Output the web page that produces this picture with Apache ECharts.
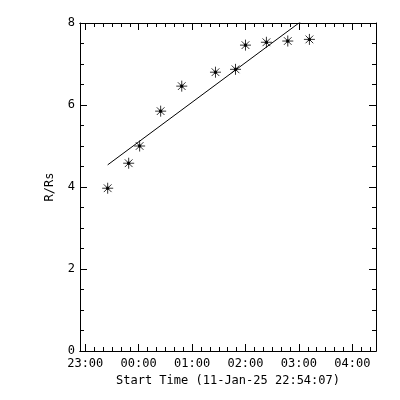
<!DOCTYPE html>
<html>
<head>
<meta charset="utf-8">
<script src="https://cdn.jsdelivr.net/npm/echarts@6/dist/echarts.min.js"></script>
<style>html,body{margin:0;padding:0;background:#fff}#c{width:400px;height:400px}</style>
</head>
<body>
<div id="c"></div>
<script>
// x values: minutes after 23:00 (11-Jan-25); y values: R/Rs
var timeMin = [25.2, 48.8, 61.1, 84.7, 108.4, 146.3, 168.8, 180.0, 203.5, 227.5, 251.8];
var radius  = [3.97, 4.58, 5.00, 5.85, 6.46, 6.80, 6.87, 7.46, 7.53, 7.56, 7.60];
var fitTime = [25.2, 251.8];
var fitR    = [4.54, 8.19];
var xMin = -5.883;   // 22:54:07
var xMax = 326.6;
var majorTicks = [0, 60, 120, 180, 240, 300];
var minorTicks = [];
for (var m = 0; m <= 320; m += 10) minorTicks.push(m);
var yTicks = ['0', '2', '4', '6', '8'];

var FONT = 'DejaVu Sans Mono';
function fmtTime(v) {
  var t = Math.round(23 * 60 + v) % 1440;
  var h = Math.floor(t / 60), mm = t % 60;
  return (h < 10 ? '0' : '') + h + ':' + (mm < 10 ? '0' : '') + mm;
}
var lineStyle = {color: '#000', width: 1};
function xAxisDef(pos, ticks, len, showLabel, showName) {
  return {
    type: 'value', position: pos, min: xMin, max: xMax,
    axisLine: {show: true, onZero: false, lineStyle: lineStyle},
    axisTick: {show: true, inside: true, length: len, customValues: ticks, lineStyle: lineStyle},
    axisLabel: {show: showLabel, customValues: majorTicks, formatter: fmtTime, color: '#000',
      fontFamily: FONT, fontSize: 12, margin: 7},
    splitLine: {show: false},
    name: showName ? 'Start Time (11-Jan-25 22:54:07)' : '',
    nameLocation: 'middle', nameGap: 22,
    nameTextStyle: {color: '#000', fontFamily: FONT, fontSize: 12}
  };
}
function yAxisDef(pos, showLabel) {
  return {
    type: 'value', position: pos, min: 0, max: 8, interval: 2,
    axisLine: {show: true, onZero: false, lineStyle: lineStyle},
    axisTick: {show: true, inside: true, length: 7, lineStyle: lineStyle},
    minorTick: {show: true, splitNumber: 4, length: 4, lineStyle: lineStyle},
    axisLabel: {show: showLabel, color: '#000', fontFamily: FONT, fontSize: 12, margin: 5,
      formatter: function (v) { return yTicks[Math.round(v / 2)]; }},
    splitLine: {show: false},
    name: showLabel ? 'R/Rs' : '',
    nameLocation: 'middle', nameGap: 24, nameRotate: 90,
    nameTextStyle: {color: '#000', fontFamily: FONT, fontSize: 12}
  };
}

var chart = echarts.init(document.getElementById('c'), null, {renderer: 'canvas'});
chart.setOption({
  animation: false,
  backgroundColor: '#fff',
  grid: {left: 80, top: 23, width: 296, height: 328, containLabel: false},
  xAxis: [
    xAxisDef('bottom', majorTicks, 7, true, true),
    xAxisDef('bottom', minorTicks, 4, false, false),
    xAxisDef('top', majorTicks, 7, false, false),
    xAxisDef('top', minorTicks, 4, false, false)
  ],
  yAxis: [yAxisDef('left', true), yAxisDef('right', false)],
  series: [
    {
      type: 'scatter', xAxisIndex: 0, yAxisIndex: 0,
      data: timeMin.map(function (t, i) { return [t, radius[i]]; }),
      symbol: 'path://M5 0L5 10M0 5L10 5M1.5 1.5L8.5 8.5M8.5 1.5L1.5 8.5M4 4L6 4L6 6L4 6Z',
      symbolSize: 11,
      itemStyle: {color: '#000', borderColor: '#000', borderWidth: 1}
    },
    {
      type: 'line', xAxisIndex: 0, yAxisIndex: 0, clip: true,
      data: fitTime.map(function (t, i) { return [t, fitR[i]]; }),
      symbol: 'none', lineStyle: {color: '#000', width: 1}
    }
  ]
});
</script>
</body>
</html>
